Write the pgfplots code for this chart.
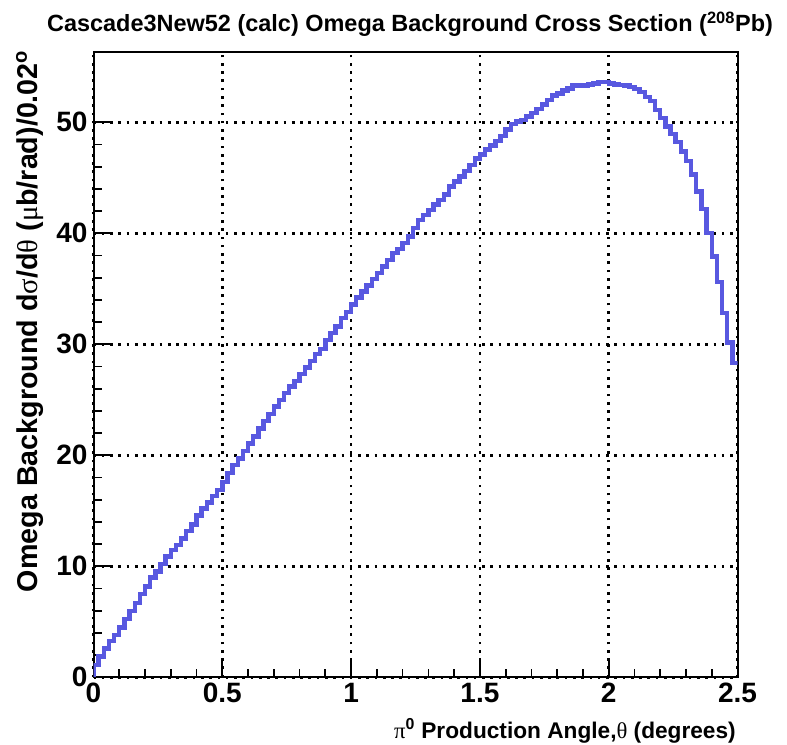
\documentclass[border=0pt]{standalone}
\usepackage{pgfplots}
\pgfplotsset{compat=1.18}
\usepackage{fontspec}
\setmainfont{Liberation Sans}
\newfontfamily\grk{Liberation Serif}
\definecolor{histblue}{RGB}{88,88,224}
\begin{document}
\begin{tikzpicture}
\path[use as bounding box] (0pt,0pt) rectangle (590.25pt,-558pt);
\begin{axis}[
  at={(70.125pt,-507.975pt)}, anchor=south west,
  width=483pt, height=468.75pt, scale only axis,
  xmin=0, xmax=2.5, ymin=0, ymax=56.3,
  xtick={0,0.5,1,1.5,2,2.5},
  ytick={0,10,20,30,40,50},
  minor x tick num=4, minor y tick num=4,
  xtick pos=bottom, ytick pos=left,
  tick align=inside,
  major tick length=13pt, minor tick length=6.5pt,
  every tick/.style={black, line width=1.3pt},
  axis line style={black, line width=1.5pt},
  grid=major,
  major grid style={black, line width=2pt, dash pattern=on 2pt off 4.2pt},
  /pgf/number format/assume math mode=true,
  ticklabel style={font=\fontsize{21}{21}\selectfont\bfseries},
  xticklabel style={yshift=-1pt},
  yticklabel style={xshift=-1pt},
]
\addplot[const plot mark left, histblue, line width=3.3pt, line join=miter] coordinates {
(0,0) (0.00,1.1) (0.02,1.86) (0.04,2.6) (0.06,3.27) (0.08,3.8) (0.10,4.47) (0.12,5.25) (0.14,5.97)
(0.16,6.72) (0.18,7.48) (0.20,8.17) (0.22,8.98) (0.24,9.52) (0.26,10.2) (0.28,10.87) (0.30,11.47)
(0.32,11.9) (0.34,12.5) (0.36,13.2) (0.38,13.78) (0.40,14.56) (0.42,15.22) (0.44,15.73) (0.46,16.33)
(0.48,16.87) (0.50,17.62) (0.52,18.4) (0.54,19.1) (0.56,19.7) (0.58,20.4) (0.60,21.08) (0.62,21.68)
(0.64,22.4) (0.66,23.1) (0.68,23.7) (0.70,24.4) (0.72,25.0) (0.74,25.6) (0.76,26.2) (0.78,26.7)
(0.80,27.3) (0.82,27.9) (0.84,28.5) (0.86,29.1) (0.88,29.6) (0.90,30.4) (0.92,31.0) (0.94,31.6)
(0.96,32.35) (0.98,32.9) (1.00,33.6) (1.02,34.2) (1.04,34.74) (1.06,35.3) (1.08,35.9) (1.10,36.4)
(1.12,36.99) (1.14,37.6) (1.16,38.2) (1.18,38.6) (1.20,39.1) (1.22,39.7) (1.24,40.45) (1.26,41.2)
(1.28,41.65) (1.30,42.1) (1.32,42.6) (1.34,43.0) (1.36,43.5) (1.38,44.2) (1.40,44.65) (1.42,45.1)
(1.44,45.6) (1.46,46.15) (1.48,46.75) (1.50,47.1) (1.52,47.55) (1.54,47.9) (1.56,48.3) (1.58,48.75)
(1.60,49.35) (1.62,49.85) (1.64,50.05) (1.66,50.2) (1.68,50.5) (1.70,50.85) (1.72,51.2) (1.74,51.6)
(1.76,52.0) (1.78,52.4) (1.80,52.6) (1.82,52.85) (1.84,53.05) (1.86,53.3) (1.88,53.3) (1.90,53.3)
(1.92,53.4) (1.94,53.5) (1.96,53.6) (1.98,53.6) (2.00,53.5) (2.02,53.4) (2.04,53.35) (2.06,53.3)
(2.08,53.15) (2.10,52.97) (2.12,52.7) (2.14,52.3) (2.16,51.9) (2.18,51.1) (2.20,50.4) (2.22,49.6)
(2.24,48.95) (2.26,48.2) (2.28,47.35) (2.30,46.5) (2.32,45.3) (2.34,43.75) (2.36,42.2) (2.38,40.05)
(2.40,37.9) (2.42,35.6) (2.44,32.8) (2.46,30.15) (2.48,28.3) (2.50,28.3)
};
\end{axis}
\node[anchor=base, font=\fontsize{17.6}{17.6}\selectfont\bfseries, inner sep=0pt] at (307.5pt,-23.8pt)
  {Cascade3New52 (calc) Omega Background Cross Section (\textsuperscript{208}Pb)};
\node[anchor=base east, rotate=90, font=\fontsize{21.5}{21.5}\selectfont\bfseries, inner sep=0pt] at (27.75pt,-37.5pt)
  {Omega Background d{\grk\mdseries σ}/d{\grk\mdseries θ} ({\grk\mdseries μ}b/rad)/0.02\textsuperscript{o}};
\node[anchor=base east, font=\fontsize{17}{17}\selectfont\bfseries, inner sep=0pt] at (552pt,-553.5pt)
  {{\grk\mdseries π}\textsuperscript{0} Production Angle,{\grk\mdseries θ} (degrees)};
\end{tikzpicture}
\end{document}
